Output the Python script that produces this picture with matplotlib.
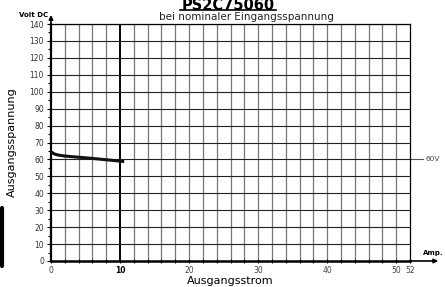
import numpy as np
import matplotlib
matplotlib.use('Agg')
import matplotlib.pyplot as plt

# data
strom = [0, 0.5, 1, 2, 4, 6, 8, 10, 10.6]
spannung = [64.5, 63.2, 62.6, 62.0, 61.3, 60.6, 59.8, 59.0, 58.7]

x_ticks = [0, 10, 20, 30, 40, 50, 52]
y_ticks = list(range(0, 141, 10))
nominal = 60

fig = plt.figure(figsize=(4.45, 2.87), dpi=100)
ax = fig.add_axes([51 / 445, 1 - 261 / 287, 359 / 445, 237 / 287])

ax.set_xlim(0, 52)
ax.set_ylim(0, 140)

# grid
for xv in np.arange(2, 52, 2):
    if xv == 10:
        ax.axvline(xv, color='black', lw=1.4, zorder=1)
    else:
        ax.axvline(xv, color='#777777', lw=0.9, zorder=1)
for yv in np.arange(10, 141, 10):
    ax.axhline(yv, color='#222222', lw=0.8, zorder=1)

for s in ['top', 'right']:
    ax.spines[s].set_linewidth(0.9)
ax.spines['left'].set_linewidth(1.6)
ax.spines['bottom'].set_linewidth(1.8)

ax.set_xticks(x_ticks)
ax.set_xticklabels([str(t) for t in x_ticks], fontsize=5.5, color='#444444')
ax.get_xticklabels()[1].set_fontweight('bold')
ax.get_xticklabels()[1].set_color('black')
ax.set_xticks(np.arange(0, 53, 2), minor=True)
ax.set_yticks(y_ticks)
ax.set_yticklabels([str(t) for t in y_ticks], fontsize=5.5, color='#333333')
ax.set_yticks(np.arange(0, 141, 5), minor=True)
ax.tick_params(axis='x', which='both', length=3, width=0.8, direction='inout', pad=2)
ax.tick_params(axis='y', which='major', length=3, width=0.8, pad=2)
ax.tick_params(axis='y', which='minor', length=2, width=0.8)

# curve
ax.plot(strom, spannung, color='#111111', lw=2.2, solid_capstyle='butt', zorder=3)

# 60V marker
ax.plot([52, 53.9], [nominal, nominal], color='#555555', lw=0.8, clip_on=False)
ax.text(54.3, nominal, '60V', fontsize=5.3, color='#444444', va='center', ha='left')

# arrows on axes
ax.annotate('', xy=(56.5, 0), xytext=(51.5, 0),
            arrowprops=dict(arrowstyle='-|>', lw=1.2, color='black', mutation_scale=6),
            annotation_clip=False)
ax.annotate('', xy=(0, 147), xytext=(0, 139),
            arrowprops=dict(arrowstyle='-|>', lw=1.2, color='black', mutation_scale=6),
            annotation_clip=False)

ax.text(56.8, 3, 'Amp.', fontsize=5, fontweight='bold', ha='right', va='bottom')
ax.text(-0.4, 143.5, 'Volt DC', fontsize=5, fontweight='bold', ha='right', va='bottom')

ax.set_xlabel('Ausgangsstrom', fontsize=8, labelpad=1)
ax.set_ylabel('Ausgangsspannung', fontsize=8, labelpad=9)

fig.text(228 / 445, 1 - 5 / 287, 'PS2C75060', fontsize=10.5, fontweight='bold',
         ha='center', va='center')
fig.add_artist(plt.Line2D([180 / 445, 276 / 445], [1 - 10 / 287, 1 - 10 / 287],
                          color='black', lw=1.2))
fig.text(246 / 445, 1 - 17 / 287, 'bei nominaler Eingangsspannung', fontsize=7.5,
         ha='center', va='center', color='#222222')

# dark bar at the left edge of the scan
fig.add_artist(plt.Line2D([2 / 445, 2 / 445], [1 - 208 / 287, 1 - 266 / 287],
                          color='black', lw=3, solid_capstyle='round'))

fig.savefig('out.png', dpi=100)
